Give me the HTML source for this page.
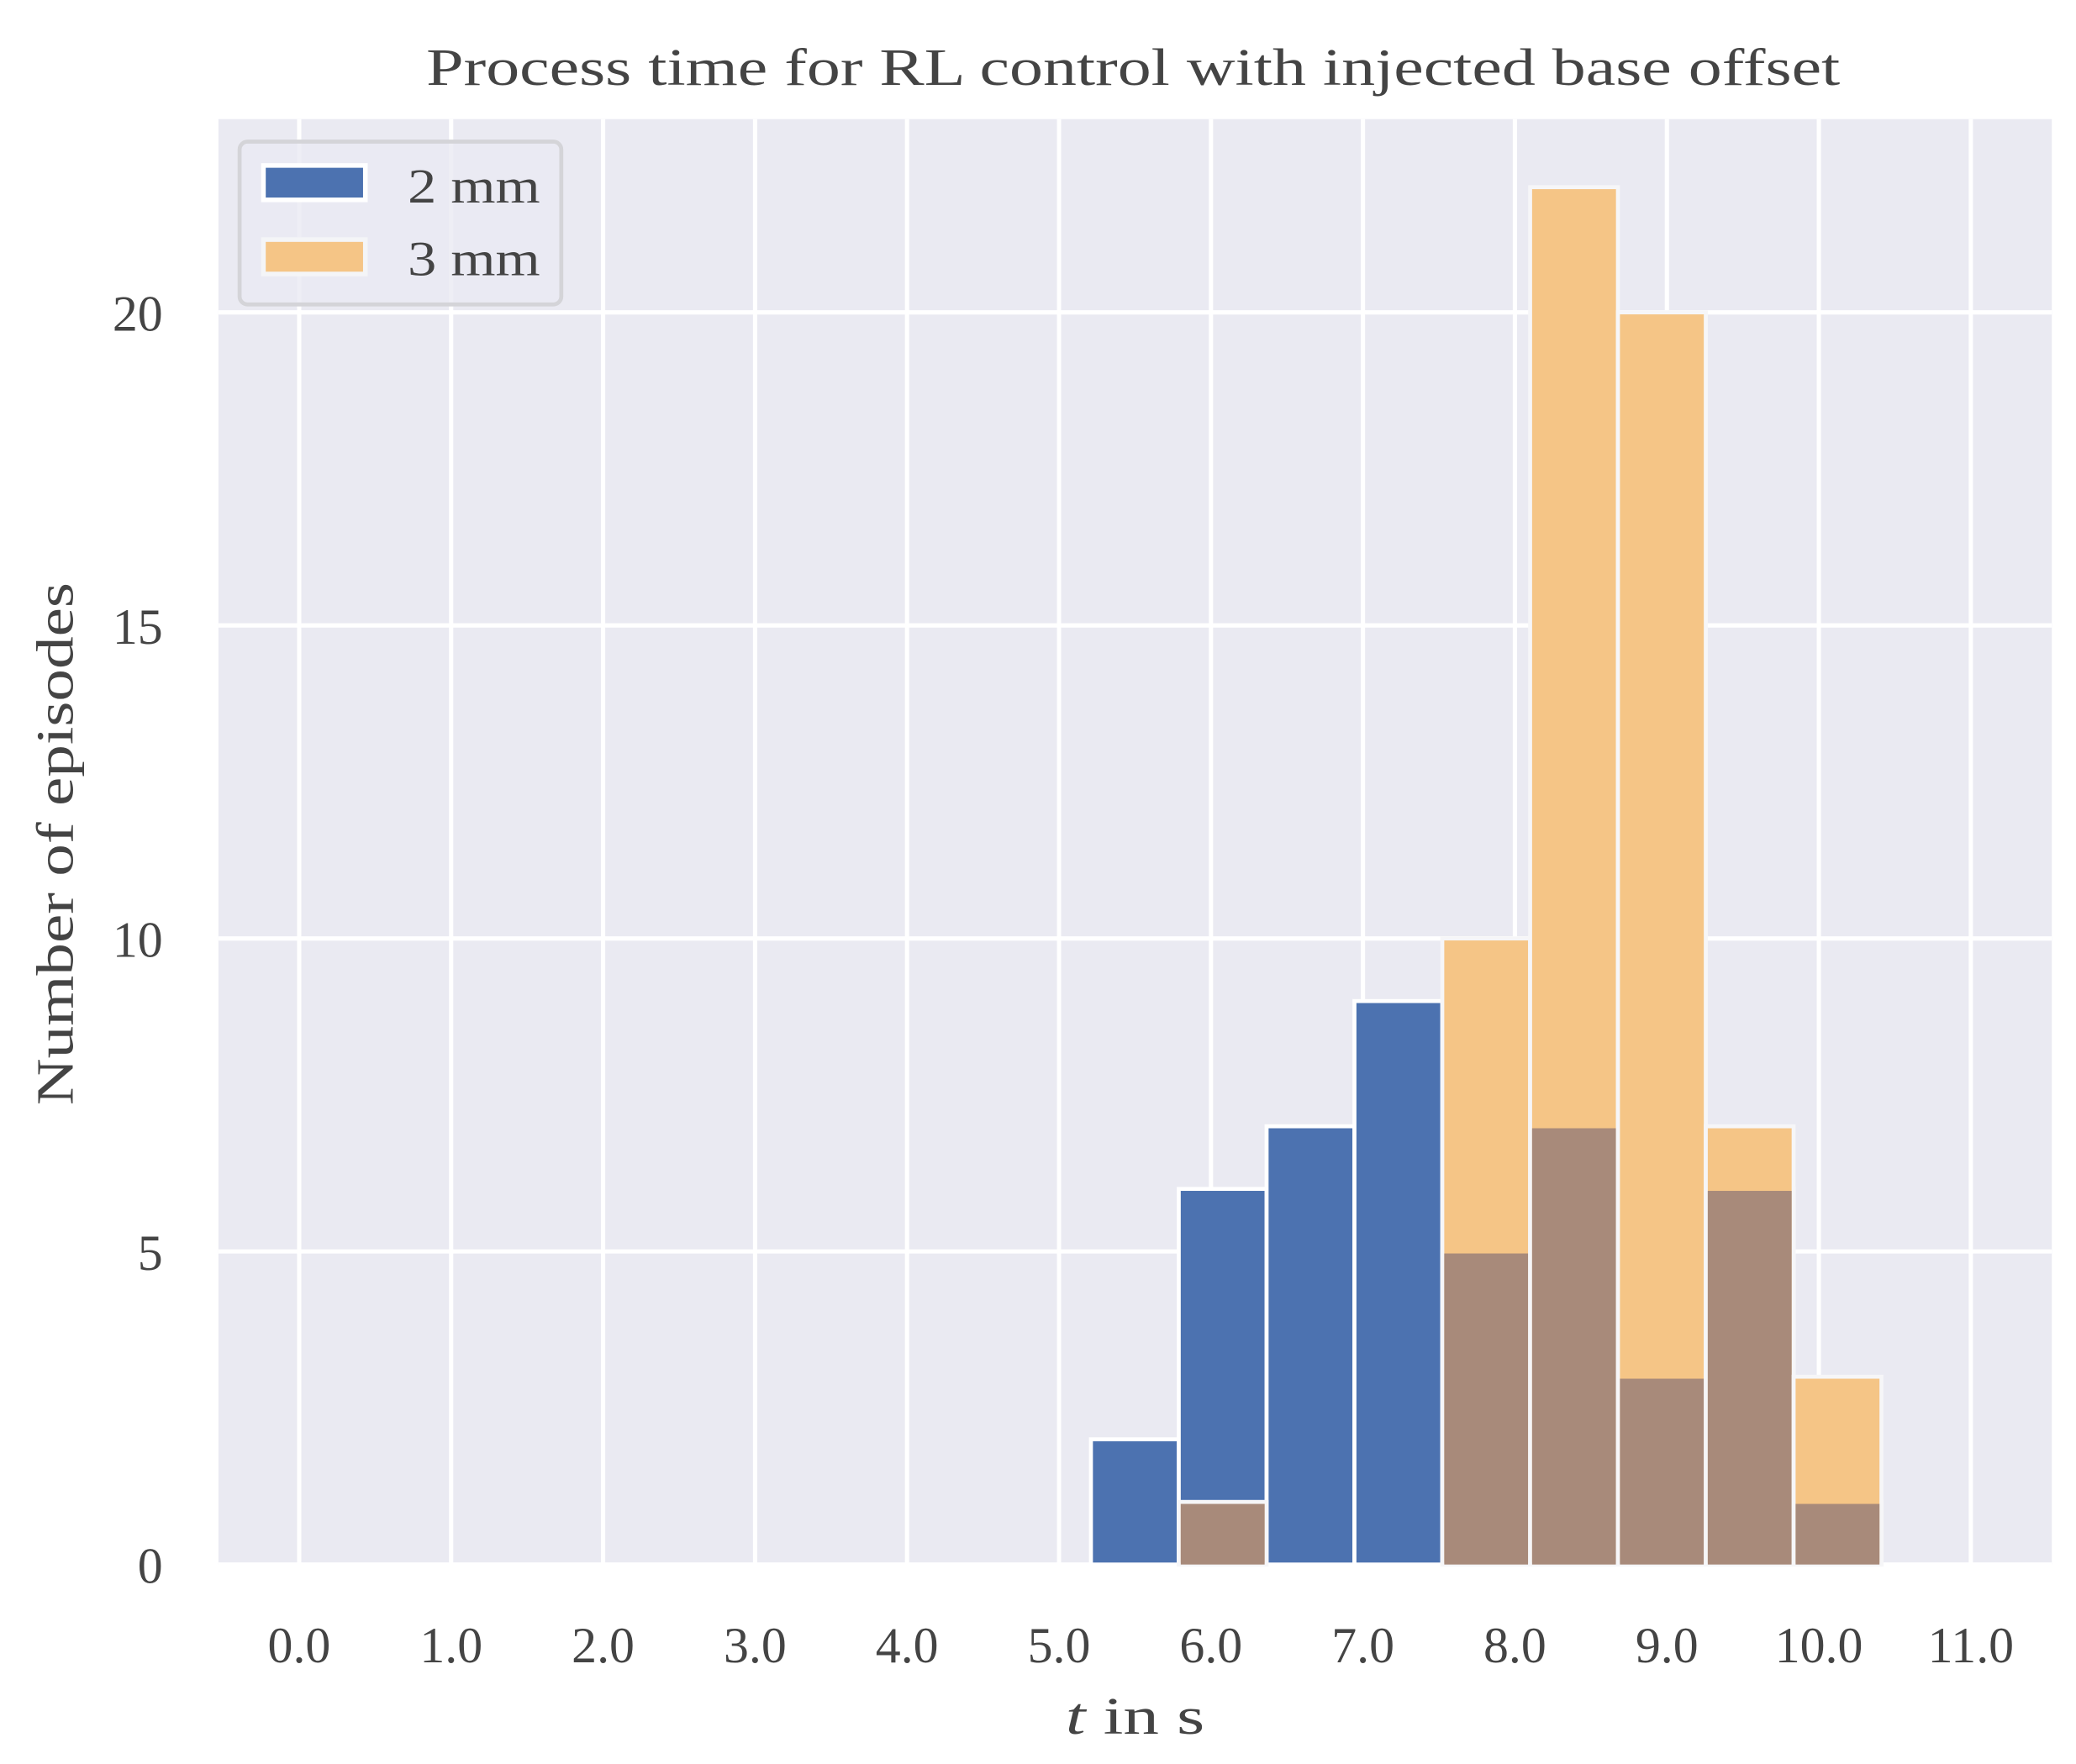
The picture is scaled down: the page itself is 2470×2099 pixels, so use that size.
<!DOCTYPE html>
<html><head><meta charset="utf-8"><style>html,body{margin:0;padding:0;background:#fff}svg{display:block}text{font-family:"Liberation Serif",serif;fill:#444}</style></head>
<body>
<svg id="chart" width="2470" height="2099" viewBox="0 0 1568.25 1332.7" xmlns="http://www.w3.org/2000/svg">
<rect x="165" y="90" width="1385" height="1092" fill="#eaeaf2"/>
<g id="grid"></g><g id="bars"></g><g id="ticks"></g>
<text x="322" y="64" font-size="40" textLength="1068" lengthAdjust="spacingAndGlyphs">Process time for RL control with injected base offset</text>
<text x="805" y="1310" font-size="40" textLength="105" lengthAdjust="spacingAndGlyphs"><tspan font-style="italic">t</tspan> in s</text>
<text transform="translate(55,835) rotate(-90)" font-size="40" textLength="395" lengthAdjust="spacingAndGlyphs">Number of episodes</text>
<g>
<rect x="181" y="107" width="243" height="123" rx="6" fill="#eaeaf2" fill-opacity="0.8" stroke="#d4d4d8" stroke-width="3"/>
<rect x="199" y="125" width="77" height="26" fill="#4c72b0" stroke="#fff" stroke-width="3.5"/>
<text x="308" y="153" font-size="37" textLength="100" lengthAdjust="spacingAndGlyphs">2 mm</text>
<rect x="199" y="181" width="77" height="26" fill="#f5c586" stroke="#f4f5f7" stroke-width="3.5"/>
<text x="308" y="208" font-size="37" textLength="100" lengthAdjust="spacingAndGlyphs">3 mm</text>
</g>
</svg>
<script>
const binStarts = [5.21,5.788,6.366,6.944,7.522,8.1,8.678,9.256,9.834];
const binWidth = 0.578;
const counts2mm = [2,6,7,9,5,7,3,6,1];
const counts3mm = [0,1,0,0,10,22,20,7,3];
const xTicks = [0,1,2,3,4,5,6,7,8,9,10,11];
const xTickLabels = ["0.0","1.0","2.0","3.0","4.0","5.0","6.0","7.0","8.0","9.0","10.0","11.0"];
const yTicks = [0,5,10,15,20];

const NS="http://www.w3.org/2000/svg";
const xs = v => 226 + v*114.8;
const ys = v => 1182 - v*47.3;
function mk(tag, attrs, parent){const e=document.createElementNS(NS,tag);for(const k in attrs)e.setAttribute(k,attrs[k]);parent.appendChild(e);return e;}
const grid=document.getElementById('grid'), bars=document.getElementById('bars'), ticks=document.getElementById('ticks');
xTicks.forEach((t,i)=>{
  const l=mk('line',{x1:xs(t),x2:xs(t),y1:90,y2:1182,stroke:'#fff','stroke-width':3.2},grid);
  
  
  const tx=mk('text',{x:xs(t),y:1256,'font-size':38,'text-anchor':'middle'},ticks);
  tx.textContent=xTickLabels[i];
  
  
});
yTicks.forEach(t=>{
  const l=mk('line',{x1:165,x2:1550,y1:ys(t),y2:ys(t),stroke:'#fff','stroke-width':3.2},grid);
  
  
  const tx=mk('text',{x:123,y:ys(t)+14,'font-size':38,'text-anchor':'end'},ticks);
  tx.textContent=String(t);
  
  
});
const w = binWidth*114.8;
binStarts.forEach((b,i)=>{
  const x=xs(b);
  if(counts2mm[i]>0){
    const r=mk('rect',{x:x,y:ys(counts2mm[i]),width:w,height:ys(0)-ys(counts2mm[i]),fill:'#4c72b0',stroke:'#fff','stroke-width':3},bars);
    
    
  }
});
binStarts.forEach((b,i)=>{
  const x=xs(b);
  if(counts3mm[i]>0){
    const r=mk('rect',{x:x,y:ys(counts3mm[i]),width:w,height:ys(0)-ys(counts3mm[i]),fill:'#f5c586',stroke:'#f6f6f8','stroke-width':3},bars);
    
    
    const m=Math.min(counts2mm[i],counts3mm[i]);
    if(m>0){
      const o=mk('rect',{x:x+1.5,y:ys(m)+1.5,width:w-3,height:ys(0)-ys(m)-1.5,fill:'#a88a7a'},bars);
      
      
    }
  }
});
</script>
</body></html>
